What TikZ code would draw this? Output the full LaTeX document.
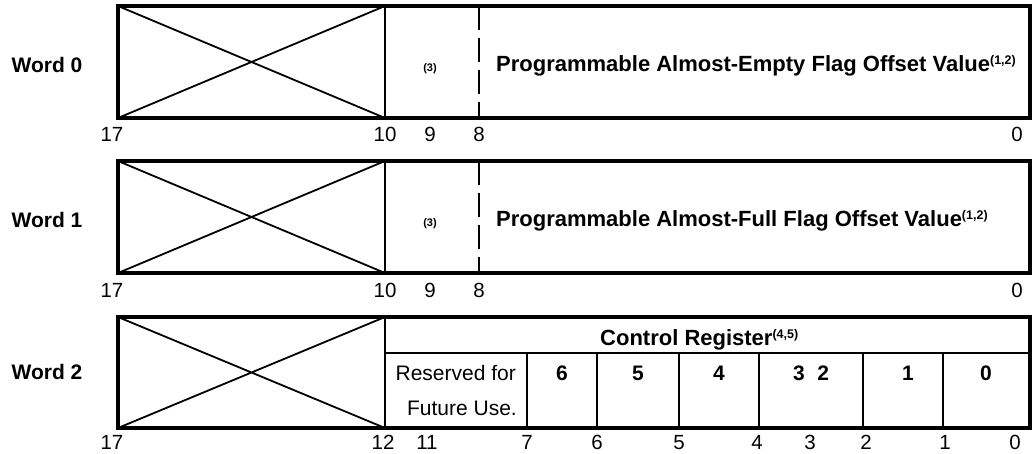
\documentclass[tikz,border=0pt]{standalone}
\usepackage{fontspec}
\setmainfont{Liberation Sans}
\begin{document}
\begin{tikzpicture}[x=1pt,y=-1pt,
  outer/.style={line width=3.6pt},
  inner/.style={line width=1.8pt},
  divider/.style={line width=1.2pt},
  dashline/.style={line width=1.8pt,dash pattern=on 24pt off 8pt},
  wordlbl/.style={font=\fontsize{21}{24}\selectfont\bfseries,anchor=base,inner sep=0pt},
  maintxt/.style={font=\fontsize{22}{24}\selectfont\bfseries,anchor=base west,inner sep=0pt},
  bitlbl/.style={font=\fontsize{20.5}{24}\selectfont,anchor=base,inner sep=0pt},
  celltxt/.style={font=\fontsize{21}{24}\selectfont,anchor=base east,inner sep=0pt},
  cellbit/.style={font=\fontsize{21}{24}\selectfont\bfseries,anchor=base,inner sep=0pt},
  note/.style={font=\fontsize{11}{12}\selectfont\bfseries,anchor=center,inner sep=0pt}]
\newcommand{\sups}[1]{\raisebox{7pt}{\fontsize{12.5}{13}\selectfont #1}}
\useasboundingbox (0,0) rectangle (1035,454);

% ---------- Word 0 ----------
\coordinate (a0) at (118,6);   \coordinate (b0) at (1030,118);
\coordinate (c0t) at (385,6);  \coordinate (c0b) at (385,118);
\coordinate (d0t) at (479,6);  \coordinate (d0b) at (479,118);
\coordinate (x0bl) at (118,118);
\draw[inner] (a0) -- (c0b) (x0bl) -- (c0t);
\draw[inner] (c0t) -- (c0b);
\draw[dashline] (d0t) -- (d0b);
\draw[outer] (a0) rectangle (b0);
\node[wordlbl] (w0) at (47,73) {Word 0};
\node[note] (n0) at (430,69) {(3)};
\node[maintxt] (t0) at (496,72) {Programmable Almost-Empty Flag Offset Value\sups{(1,2)}};
\node[bitlbl] (b0a) at (112,142) {17};
\node[bitlbl] (b0b) at (385,142) {10};
\node[bitlbl] (b0c) at (430,142) {9};
\node[bitlbl] (b0d) at (479,142) {8};
\node[bitlbl] (b0e) at (1017,142) {0};

% ---------- Word 1 ----------
\coordinate (a1) at (118,161);   \coordinate (b1) at (1030,273);
\coordinate (c1t) at (385,161);  \coordinate (c1b) at (385,273);
\coordinate (d1t) at (479,161);  \coordinate (d1b) at (479,273);
\coordinate (x1bl) at (118,273);
\draw[inner] (a1) -- (c1b) (x1bl) -- (c1t);
\draw[inner] (c1t) -- (c1b);
\draw[dashline] (d1t) -- (d1b);
\draw[outer] (a1) rectangle (b1);
\node[wordlbl] (w1) at (47,228) {Word 1};
\node[note] (n1) at (430,224) {(3)};
\node[maintxt] (t1) at (496,227) {Programmable Almost-Full Flag Offset Value\sups{(1,2)}};
\node[bitlbl] (b1a) at (112,297) {17};
\node[bitlbl] (b1b) at (385,297) {10};
\node[bitlbl] (b1c) at (430,297) {9};
\node[bitlbl] (b1d) at (479,297) {8};
\node[bitlbl] (b1e) at (1017,297) {0};

% ---------- Word 2 ----------
\coordinate (a2) at (118,317);   \coordinate (b2) at (1030,428);
\coordinate (c2t) at (385,317);  \coordinate (c2b) at (385,428);
\coordinate (x2bl) at (118,428);
\coordinate (h2l) at (385,353);  \coordinate (h2r) at (1030,353);
\draw[inner] (a2) -- (c2b) (x2bl) -- (c2t);
\draw[inner] (c2t) -- (c2b);
\draw[inner] (h2l) -- (h2r);
\foreach \xx/\nm in {527/p7,597/p6,679/p5,759/p4,863/p2,943/p1}{
  \coordinate (\nm t) at (\xx,353);
  \coordinate (\nm b) at (\xx,428);
  \draw[divider] (\nm t) -- (\nm b);
}
\draw[outer] (a2) rectangle (b2);
\node[wordlbl] (w2) at (47,379) {Word 2};
\node[maintxt] (cr) at (600,345) {Control Register\sups{(4,5)}};
\node[celltxt] (rs1) at (516,380) {Reserved for};
\node[celltxt] (rs2) at (517,415) {Future Use.};
\node[cellbit] (cb6) at (562,380) {6};
\node[cellbit] (cb5) at (638,380) {5};
\node[cellbit] (cb4) at (719,380) {4};
\node[cellbit] (cb32) at (811,380) {3\hspace{0.6em}2};
\node[cellbit] (cb1) at (908,380) {1};
\node[cellbit] (cb0) at (986,380) {0};
\node[bitlbl] (b2a) at (112,449) {17};
\node[bitlbl] (b2b) at (383,449) {12};
\node[bitlbl] (b2c) at (427,449) {11};
\node[bitlbl] (b2d) at (527,449) {7};
\node[bitlbl] (b2e) at (597,449) {6};
\node[bitlbl] (b2f) at (679,449) {5};
\node[bitlbl] (b2g) at (757,449) {4};
\node[bitlbl] (b2h) at (810,449) {3};
\node[bitlbl] (b2i) at (866,449) {2};
\node[bitlbl] (b2j) at (945,449) {1};
\node[bitlbl] (b2k) at (1015,449) {0};
\end{tikzpicture}
\end{document}
